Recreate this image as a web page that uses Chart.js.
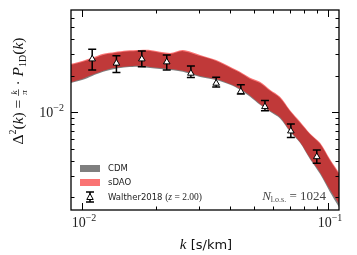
<!DOCTYPE html>
<html>
<head>
<meta charset="utf-8">
<script src="https://cdn.jsdelivr.net/npm/chart.js@4.4.1/dist/chart.umd.min.js"></script>
<style>
body{margin:0;background:#fff}
</style>
</head>
<body>
<canvas id="c" width="357" height="255"></canvas>
<script>
// band grid (k in s/km)
const kBand = [0.0090, 0.0100, 0.0110, 0.0122, 0.0136, 0.0152, 0.0172, 0.0189, 0.0228, 0.0257, 0.0302, 0.0351,
  0.0400, 0.0439, 0.0482, 0.0529, 0.0581, 0.0638, 0.0701, 0.0769, 0.0845, 0.0928, 0.1019, 0.1119]
const cdmLo = [0.0174, 0.0184, 0.0199, 0.0215, 0.0227, 0.0234, 0.0236, 0.0231, 0.0223, 0.0215, 0.0195, 0.0184,
  0.0168, 0.0153, 0.0134, 0.0115, 0.0101, 0.0089, 0.0069, 0.0056, 0.0041, 0.0031, 0.0022, 0.0016]
const cdmHi = [0.0245, 0.0259, 0.0274, 0.0296, 0.0307, 0.0316, 0.0319, 0.0319, 0.0301, 0.0318, 0.0290, 0.0264,
  0.0232, 0.0211, 0.0188, 0.0174, 0.0150, 0.0131, 0.0102, 0.0082, 0.0066, 0.0055, 0.0040, 0.0030]
const sdaoLo = [0.0177, 0.0188, 0.0203, 0.0219, 0.0232, 0.0238, 0.0241, 0.0236, 0.0227, 0.0219, 0.0199, 0.0188,
  0.0171, 0.0156, 0.0137, 0.0117, 0.0103, 0.0091, 0.0070, 0.0057, 0.0042, 0.0032, 0.0023, 0.0017]
const sdaoHi = [0.0250, 0.0264, 0.0280, 0.0302, 0.0313, 0.0322, 0.0325, 0.0325, 0.0307, 0.0325, 0.0296, 0.0269,
  0.0237, 0.0215, 0.0192, 0.0178, 0.0153, 0.0134, 0.0104, 0.0084, 0.0067, 0.0056, 0.0041, 0.0031]

// Walther2018 points
const kData = [0.0110, 0.0138, 0.0175, 0.0221, 0.0277, 0.0351, 0.0442, 0.0554, 0.0706, 0.0900]
const pk    = [0.0274, 0.0253, 0.0274, 0.0259, 0.0209, 0.0173, 0.0148, 0.0111, 0.0070, 0.0043]
const pkLo  = [0.0222, 0.0212, 0.0237, 0.0223, 0.0193, 0.0161, 0.0141, 0.0103, 0.0062, 0.0038]
const pkHi  = [0.0330, 0.0292, 0.0319, 0.0296, 0.0240, 0.0194, 0.0168, 0.0125, 0.0080, 0.0049]

const xMajor = [0.01, 0.1]
const xMajorExp = ['\u22122', '\u22121']
const yMajor = [0.01]
const yMajorExp = ['\u22122']
const xRange = [0.00902, 0.1108]
const yRange = [0.00157, 0.0693]

const SERIF = '"Liberation Serif", "DejaVu Serif", serif'
const SANS = '"DejaVu Sans", sans-serif'

function minors(lo, hi){
  const out = []
  for(let e = Math.floor(Math.log10(lo)); e <= Math.ceil(Math.log10(hi)); e++){
    for(let m = 2; m <= 9; m++){
      const v = m * Math.pow(10, e)
      if(v >= lo && v <= hi) out.push(v)
    }
  }
  return out
}

function runWidth(ctx, segs){
  let w = 0
  segs.forEach(s=>{
    if(s.frac){ ctx.font = s.f; w += Math.max(...s.frac.map(t=>ctx.measureText(t).width)) + 2 }
    else { ctx.font = s.f; w += ctx.measureText(s.t).width }
  })
  return w
}

function drawRun(ctx, segs, x, y, align){
  const w = runWidth(ctx, segs)
  let cx = align === 'center' ? x - w/2 : align === 'right' ? x - w : x
  ctx.textAlign = 'left'
  ctx.textBaseline = 'alphabetic'
  segs.forEach(s=>{
    ctx.font = s.f
    if(s.frac){
      const fw = Math.max(...s.frac.map(t=>ctx.measureText(t).width)) + 2
      ctx.fillText(s.frac[0], cx + (fw - ctx.measureText(s.frac[0]).width)/2, y - 6.5)
      ctx.fillText(s.frac[1], cx + (fw - ctx.measureText(s.frac[1]).width)/2, y + 3.5)
      ctx.fillRect(cx, y - 5, fw, 0.7)
      cx += fw
    } else {
      ctx.fillText(s.t, cx, y + (s.dy||0))
      cx += ctx.measureText(s.t).width
    }
  })
}

function errBar(ctx, x, yTop, yBot){
  ctx.strokeStyle = '#000'
  ctx.lineWidth = 1.5
  ctx.beginPath()
  ctx.moveTo(x, yTop); ctx.lineTo(x, yBot)
  ctx.moveTo(x-4, yTop); ctx.lineTo(x+4, yTop)
  ctx.moveTo(x-4, yBot); ctx.lineTo(x+4, yBot)
  ctx.stroke()
}

const errorBars = {
  id: 'errorBars',
  beforeDatasetDraw(chart, args){
    if(args.index !== 4) return
    const {ctx, scales:{x, y}} = chart
    ctx.save()
    kData.forEach((k,i)=>{
      errBar(ctx, x.getPixelForValue(k), y.getPixelForValue(pkHi[i]), y.getPixelForValue(pkLo[i]))
    })
    ctx.restore()
  }
}

const frame = {
  id: 'frame',
  afterDraw(chart){
    const {ctx, chartArea:a, scales:{x, y}} = chart
    ctx.save()
    ctx.strokeStyle = '#000'
    // ticks, pointing in, on all four sides
    ctx.lineWidth = 1
    ctx.beginPath()
    const xt = (v, len)=>{ const px = Math.round(x.getPixelForValue(v)) + 0.5
      ctx.moveTo(px, a.bottom); ctx.lineTo(px, a.bottom - len)
      ctx.moveTo(px, a.top); ctx.lineTo(px, a.top + len) }
    const yt = (v, len)=>{ const py = Math.round(y.getPixelForValue(v)) + 0.5
      ctx.moveTo(a.left, py); ctx.lineTo(a.left + len, py)
      ctx.moveTo(a.right, py); ctx.lineTo(a.right - len, py) }
    xMajor.forEach(v=>xt(v, 7))
    minors(xRange[0], xRange[1]).forEach(v=>xt(v, 3.5))
    yMajor.forEach(v=>yt(v, 7))
    minors(yRange[0], yRange[1]).forEach(v=>yt(v, 3.5))
    ctx.stroke()
    ctx.lineWidth = 1.3
    ctx.strokeRect(a.left, a.top, a.right - a.left, a.bottom - a.top)

    // tick labels
    ctx.fillStyle = '#222'
    xMajor.forEach((v,i)=>{
      drawRun(ctx, [{t:'10', f:`14px ${SERIF}`}, {t:xMajorExp[i], f:`10px ${SERIF}`, dy:-6}],
        x.getPixelForValue(v) + 2, 227, 'center')
    })
    yMajor.forEach((v,i)=>{
      drawRun(ctx, [{t:'10', f:`14px ${SERIF}`}, {t:yMajorExp[i], f:`10px ${SERIF}`, dy:-6}],
        a.left - 7, y.getPixelForValue(v) + 5, 'right')
    })

    // axis titles
    ctx.fillStyle = '#111'
    const cx = (a.left + a.right)/2
    drawRun(ctx, [{t:'k', f:`italic 15px ${SERIF}`}, {t:' [s/km]', f:`13px ${SANS}`}], cx + 1, 249, 'center')
    ctx.save()
    ctx.translate(23, 91)
    ctx.rotate(-Math.PI/2)
    const m = `15.5px ${SERIF}`, mi = `italic 15.5px ${SERIF}`, s = `10px ${SERIF}`
    drawRun(ctx, [
      {t:'\u0394', f:m}, {t:'2', f:s, dy:-7}, {t:'(', f:m}, {t:'k', f:mi}, {t:') = ', f:m},
      {frac:['k','\u03c0'], f:`italic 9px ${SERIF}`}, {t:' \u00b7 ', f:m}, {t:'P', f:mi},
      {t:'1D', f:s, dy:3}, {t:'(', f:m}, {t:'k', f:mi}, {t:')', f:m}
    ], 0, 0, 'center')
    ctx.restore()

    // legend
    ctx.fillStyle = 'rgba(0,0,0,0.5)'
    ctx.fillRect(80, 165, 20, 7)
    ctx.fillStyle = 'rgba(245,0,0,0.55)'
    ctx.fillRect(80, 179, 20, 7)
    errBar(ctx, 90, 192, 202)
    ctx.fillStyle = '#fff'
    ctx.strokeStyle = '#000'
    ctx.lineWidth = 1
    ctx.beginPath()
    ctx.moveTo(90, 193.5); ctx.lineTo(93.2, 199.5); ctx.lineTo(86.8, 199.5); ctx.closePath()
    ctx.fill(); ctx.stroke()
    ctx.fillStyle = '#222'
    ctx.font = `8.5px ${SANS}`
    ctx.textBaseline = 'middle'
    ctx.fillText('CDM', 108, 169)
    ctx.fillText('sDAO', 108, 183)
    drawRun(ctx, [{t:'Walther2018 ', f:`8.5px ${SANS}`}, {t:'(', f:`9.5px ${SERIF}`},
      {t:'z', f:`italic 9.5px ${SERIF}`}, {t:' = 2.00)', f:`9.5px ${SERIF}`}], 108, 200, 'left')

    // sight-line count
    ctx.fillStyle = '#444'
    drawRun(ctx, [{t:'N', f:`italic 13px ${SERIF}`}, {t:'l.o.s.', f:`8px ${SERIF}`, dy:2},
      {t:' = 1024', f:`13px ${SERIF}`}], 326, 200, 'right')
    ctx.restore()
  }
}

const band = ys => kBand.map((k,i)=>({x:k, y:ys[i]}))
const edge = {borderColor:'transparent', borderWidth:0, pointRadius:0, tension:0.3}

new Chart(document.getElementById('c'), {
  type: 'line',
  data: {
    datasets: [
      {...edge, data: band(cdmLo), fill:false, order:3},
      {...edge, data: band(cdmHi), fill:'-1', backgroundColor:'rgba(0,0,0,0.5)', order:3},
      {...edge, data: band(sdaoLo), fill:false, order:2},
      {...edge, data: band(sdaoHi), fill:'-1', backgroundColor:'rgba(245,0,0,0.55)', order:2},
      {data: kData.map((k,i)=>({x:k, y:pk[i]})), showLine:false, pointStyle:'triangle',
        pointRadius:3.8, pointBackgroundColor:'#fff', pointBorderColor:'#000', pointBorderWidth:1, order:0}
    ]
  },
  options: {
    responsive: false,
    animation: false,
    devicePixelRatio: 1,
    layout: {padding: {left:71, right:18, top:10, bottom:45}},
    scales: {
      x: {type:'logarithmic', min:xRange[0], max:xRange[1], display:false},
      y: {type:'logarithmic', min:yRange[0], max:yRange[1], display:false}
    },
    plugins: {legend:{display:false}, tooltip:{enabled:false}}
  },
  plugins: [errorBars, frame]
})
</script>
</body>
</html>
